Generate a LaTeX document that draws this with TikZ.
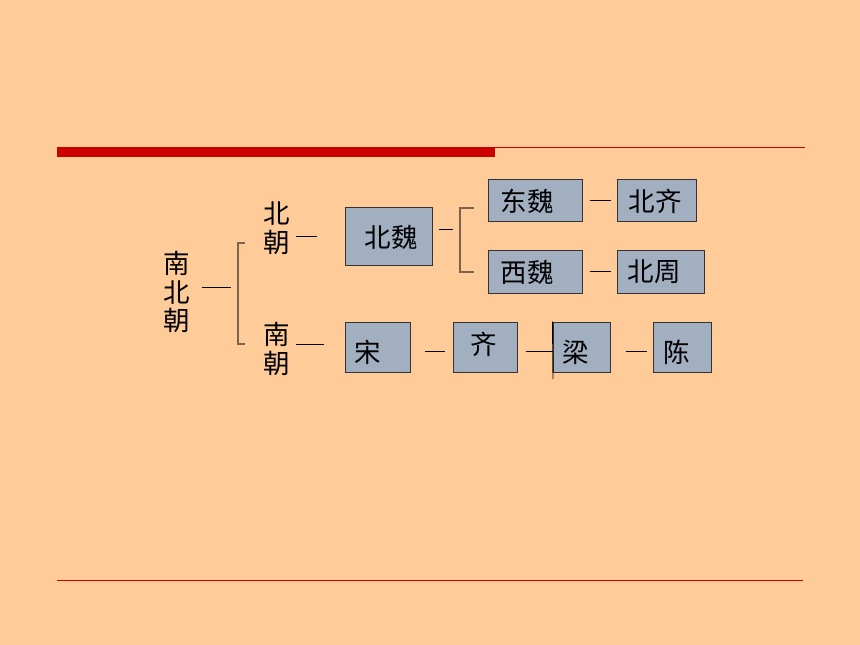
\documentclass[tikz,border=0pt]{standalone}
\usepackage{fontspec}
\setmainfont{Noto Sans CJK SC}
\definecolor{bgpaper}{HTML}{FFCC99}
\definecolor{boxfill}{HTML}{A1AFC1}
\definecolor{boxline}{HTML}{333333}
\definecolor{barred}{HTML}{CC0000}
\definecolor{brace}{HTML}{7A6450}

\begin{document}
\begin{tikzpicture}[x=1pt,y=-1pt,
  box/.style={draw=boxline, fill=boxfill, line width=1pt, inner sep=0pt},
  txt/.style={inner sep=0pt, font=\fontsize{26.5}{28.5}\selectfont, align=center},
  dashline/.style={draw=black, line width=0.9pt},
  bracket/.style={draw=brace, line width=1.3pt}]
  \fill[bgpaper] (0,0) rectangle (860,645);
  \useasboundingbox (0,0) rectangle (860,645);

  % title rules
  \fill[barred] (57,147) rectangle (495,157);
  \draw[barred, line width=1pt] (495,147.5) -- (805,147.5);
  \draw[red!80!black, line width=0.6pt] (57,580) -- (803,580);

  % left labels
  \node[txt] (nbc) at (177,292) {南\\北\\朝};
  \node[txt] (bc) at (277,228) {北\\朝};
  \node[txt] (nc) at (277,349) {南\\朝};

  \draw[dashline] (202,287) -- (231,287);
  \draw[bracket] (245,243) -- (238,243) -- (238,344) -- (245,344);
  \draw[dashline] (296,236) -- (317,236);
  \draw[dashline] (296,344) -- (324,344);

  % northern dynasties
  \node[box, minimum width=87, minimum height=58] (bw) at (388.5,236.5) {};
  \node[txt] at (391,237) {北魏};
  \draw[dashline] (439,229) -- (453,229);
  \draw[bracket, line width=1.1pt] (474,208) -- (460,208) -- (460,272) -- (474,272);

  \node[box, minimum width=94, minimum height=42] (dw) at (535,200) {};
  \node[txt] at (527,201) {东魏};
  \node[box, minimum width=79, minimum height=42] (bq) at (656.5,200) {};
  \node[txt] at (655,201) {北齐};
  \node[box, minimum width=94, minimum height=43] (xw) at (535,271.5) {};
  \node[txt] at (527,272) {西魏};
  \node[box, minimum width=87, minimum height=43] (bz) at (660.5,271.5) {};
  \node[txt] at (654,272) {北周};

  \draw[dashline] ([xshift=7]dw.east) -- ([xshift=-6]bq.west);
  \draw[dashline] ([xshift=7]xw.east) -- ([xshift=-6]bz.west);

  % southern dynasties
  \node[box, minimum width=65, minimum height=50] (song) at (377.5,347) {};
  \node[txt] at (368,352) {宋};
  \node[box, minimum width=64, minimum height=50] (qi) at (485,347) {};
  \node[txt] at (484,344) {齐};
  \node[box, minimum width=57, minimum height=50] (liang) at (581.5,347) {};
  \node[txt] at (576,352) {梁};
  \node[box, minimum width=58, minimum height=50] (chen) at (682,347) {};
  \node[txt] at (677,352) {陈};

  \coordinate (lq) at (553,379);
  \draw[dashline] ([xshift=14,yshift=-4]song.east) -- ([xshift=-8,yshift=-4]qi.west);
  \draw[dashline] ([xshift=8,yshift=-4]qi.east) -- ([yshift=-4]liang.west);
  \draw[dashline] (liang.north west) -- (lq);
  \draw[dashline] ([xshift=15,yshift=-4]liang.east) -- ([xshift=-6,yshift=-4]chen.west);
\end{tikzpicture}
\end{document}
